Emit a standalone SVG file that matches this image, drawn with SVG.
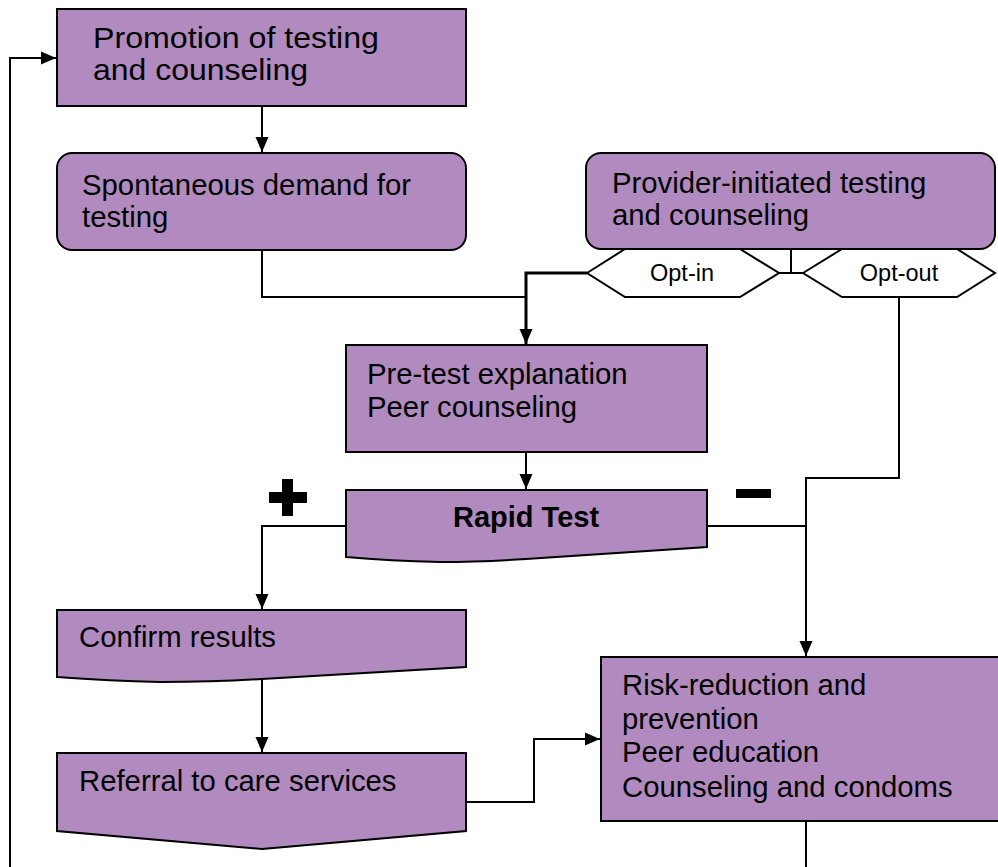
<svg xmlns="http://www.w3.org/2000/svg" width="998" height="867" viewBox="0 0 998 867">
<defs>
<style>
.box{fill:#b18bbf;stroke:#000;stroke-width:2}
.hex{fill:#fff;stroke:#000;stroke-width:2}
.t{font-family:"Liberation Sans",Arial,sans-serif;font-size:29.3px;fill:#000}
.s{font-family:"Liberation Sans",Arial,sans-serif;font-size:23.5px;fill:#000}
.b{font-family:"Liberation Sans",Arial,sans-serif;font-size:29px;font-weight:bold;fill:#000}
.c{fill:none;stroke:#000;stroke-width:2}
.c3{fill:none;stroke:#000;stroke-width:3}
</style>
<marker id="arr" markerUnits="userSpaceOnUse" markerWidth="16" markerHeight="16" viewBox="0 0 16 16" refX="15" refY="8" orient="auto">
<path d="M0,1.5 L15,8 L0,14.5 Z" fill="#000"/>
</marker>
</defs>

<g id="connectors">
<path class="c" d="M262,106 V152" marker-end="url(#arr)"/>
<path class="c" d="M262,250 V297 H526"/>
<path class="c3" d="M587,273 H526 V344" marker-end="url(#arr)"/>
<path class="c" d="M779,273 H803"/>
<path class="c" d="M791,249 V273"/>
<path class="c" d="M526,452 V489" marker-end="url(#arr)"/>
<path class="c" d="M346,526 H262 V609" marker-end="url(#arr)"/>
<path class="c" d="M707,526 H806"/>
<path class="c" d="M899,297 V478 H806 V656" marker-end="url(#arr)"/>
<path class="c" d="M262,679 V752" marker-end="url(#arr)"/>
<path class="c" d="M466,802 H534 V739 H600" marker-end="url(#arr)"/>
<path class="c" d="M806,821 V867"/>
<path class="c" d="M10,867 V58 H56" marker-end="url(#arr)"/>
</g>

<g id="opt-in">
<polygon class="hex" points="587,273 625,249 740,249 779,273 740,297 625,297"/>
<text class="s" x="682" y="281" text-anchor="middle">Opt-in</text>
</g>
<g id="opt-out">
<polygon class="hex" points="803,273 842,249 957,249 995,273 957,297 842,297"/>
<text class="s" x="899" y="281" text-anchor="middle">Opt-out</text>
</g>

<g id="promotion">
<rect class="box" x="57" y="9" width="409" height="97"/>
<text class="t" x="93" y="48" textLength="286" lengthAdjust="spacingAndGlyphs">Promotion of testing</text>
<text class="t" x="93" y="80" textLength="215" lengthAdjust="spacingAndGlyphs">and counseling</text>
</g>

<g id="spontaneous">
<rect class="box" x="57" y="153" width="409" height="97" rx="15" ry="15"/>
<text class="t" x="82" y="195">Spontaneous demand for</text>
<text class="t" x="82" y="227">testing</text>
</g>

<g id="provider">
<rect class="box" x="586" y="153" width="409" height="96" rx="15" ry="15"/>
<text class="t" x="612" y="193">Provider-initiated testing</text>
<text class="t" x="612" y="225">and counseling</text>
</g>

<g id="pretest">
<rect class="box" x="346" y="345" width="361" height="107"/>
<text class="t" x="367" y="384">Pre-test explanation</text>
<text class="t" x="367" y="417">Peer counseling</text>
</g>

<g id="rapid">
<path class="box" d="M346,490 H707 V547 L526,559 Q480,562 440,562 Q390,561 346,557 Z"/>
<text class="b" x="526" y="527" text-anchor="middle">Rapid Test</text>
</g>

<g id="plus-sign">
<rect x="282" y="479" width="11" height="37" fill="#000"/>
<rect x="269" y="492" width="38" height="11" fill="#000"/>
</g>
<g id="minus-sign">
<rect x="736" y="489" width="35" height="9" fill="#000"/>
</g>

<g id="confirm">
<path class="box" d="M57,610 H466 V667 L262,679 Q215,682 160,682 Q110,681 57,677 Z"/>
<text class="t" x="79" y="647">Confirm results</text>
</g>

<g id="referral">
<path class="box" d="M57,753 H466 V831 L262,849 L57,831 Z"/>
<text class="t" x="79" y="791">Referral to care services</text>
</g>

<g id="risk">
<rect class="box" x="601" y="657" width="400" height="164"/>
<text class="t" x="622" y="695">Risk-reduction and</text>
<text class="t" x="622" y="729">prevention</text>
<text class="t" x="622" y="762">Peer education</text>
<text class="t" x="622" y="797">Counseling and condoms</text>
</g>
</svg>
